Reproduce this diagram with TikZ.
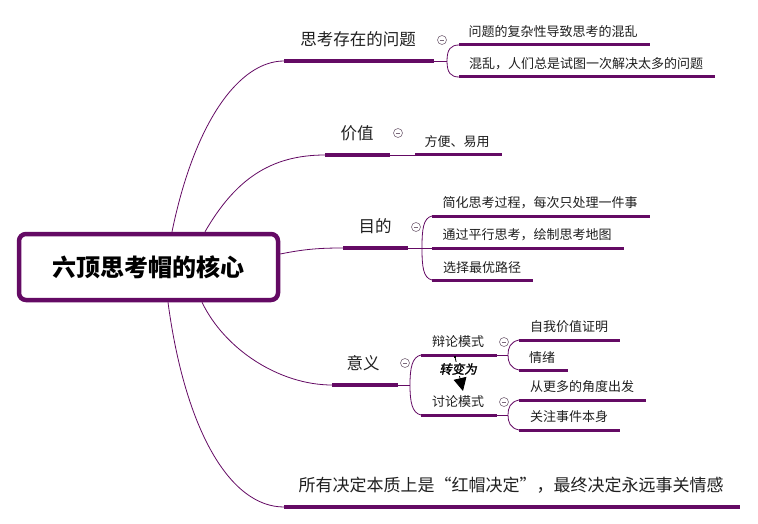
\documentclass[tikz,border=0pt]{standalone}
\usepackage{fontspec}
\setmainfont{Noto Sans CJK SC}
\newfontfamily\slantfont[FakeSlant=0.2,FakeBold=1.5]{Noto Sans CJK SC}
\usetikzlibrary{arrows.meta}
\definecolor{pp}{RGB}{100,10,100}
\begin{document}
\begin{tikzpicture}[x=1pt,y=-1pt,
 conn/.style={draw=pp,line width=0.8pt},
 ulone/.style={draw=pp,line width=4pt},
 ultwo/.style={draw=pp,line width=3pt},
 lblone/.style={inner sep=0pt,font=\fontsize{16.5}{18}\selectfont,text=black!88},
 lbltwo/.style={inner sep=0pt,font=\fontsize{13}{15}\selectfont,text=black!88},
 fold/.style={circle,draw=gray!80!pp,line width=0.6pt,minimum size=9pt,inner sep=0pt,
   path picture={\draw[gray!80!pp,line width=0.6pt] ([xshift=-2.4pt]path picture bounding box.center) -- ([xshift=2.4pt]path picture bounding box.center);}},
]
\path[use as bounding box,fill=white] (0,0) rectangle (758,524);

% root
\node[draw=pp,line width=4.5pt,rounded corners=7pt,minimum width=259pt,minimum height=66pt,inner sep=0pt,
  font=\fontsize{24}{26}\selectfont\bfseries] (root) at (148.5,267) {六顶思考帽的核心};

% ---------- branch 1
\coordinate (a1) at (284,61); \coordinate (a2) at (434,61);
\node[lblone] (t1) at (358,39) {思考存在的问题};
\draw[conn] ([xshift=23.5pt]root.north) .. controls (195,120) and (240,61) .. (a1);
\draw[ulone] (a1) -- (a2);
\node[fold] (f1) at (442,40) {};
\coordinate (b1) at (447,61);
\draw[conn] (a2) -- (b1);
\coordinate (s11) at (459,45); \coordinate (e11) at (650,45);
\coordinate (s12) at (459,77); \coordinate (e12) at (715,77);
\draw[conn] (b1) .. controls (447,49) and (451,45) .. (s11);
\draw[conn] (b1) .. controls (447,73) and (451,77) .. (s12);
\draw[ultwo] (s11) -- (e11);
\draw[ultwo] (s12) -- (e12);
\node[lbltwo] (t11) at (553,32) {问题的复杂性导致思考的混乱};
\node[lbltwo] (t12) at (586,64) {混乱，人们总是试图一次解决太多的问题};

% ---------- branch 2
\coordinate (a3) at (325,155); \coordinate (a4) at (390,155);
\node[lblone] (t2) at (357,133) {价值};
\draw[conn] ([xshift=56.5pt]root.north) .. controls (235,180) and (270,155) .. (a3);
\draw[ulone] (a3) -- (a4);
\node[fold] (f2) at (398,133) {};
\coordinate (s21) at (415,155); \coordinate (e21) at (502,155);
\draw[conn] (a4) -- (s21);
\draw[ultwo] (s21) -- (e21);
\node[lbltwo] (t21) at (457,142) {方便、易用};

% ---------- branch 3
\coordinate (a5) at (343,248); \coordinate (a6) at (408,248);
\node[lblone] (t3) at (375,226) {目的};
\draw[conn] ([yshift=13pt]root.east) .. controls (305,249) and (320,248) .. (a5);
\draw[ulone] (a5) -- (a6);
\node[fold] (f3) at (416,227) {};
\coordinate (b3) at (422,248);
\draw[conn] (a6) -- (b3);
\coordinate (s31) at (432,216); \coordinate (e31) at (650,216);
\coordinate (s32) at (432,248); \coordinate (e32) at (624,248);
\coordinate (s33) at (432,280); \coordinate (e33) at (533,280);
\draw[conn] (s31) .. controls (423,218) and (422,230) .. (b3) .. controls (422,266) and (423,278) .. (s33);
\draw[conn] (b3) -- (s32);
\draw[ultwo] (s31) -- (e31);
\draw[ultwo] (s32) -- (e32);
\draw[ultwo] (s33) -- (e33);
\node[lbltwo] (t31) at (540,203) {简化思考过程，每次只处理一件事};
\node[lbltwo] (t32) at (527,235) {通过平行思考，绘制思考地图};
\node[lbltwo] (t33) at (482,268) {选择最优路径};

% ---------- branch 4
\coordinate (a7) at (332,385); \coordinate (a8) at (398,385);
\node[lblone] (t4) at (363,363) {意义};
\draw[conn] ([xshift=53.5pt]root.south) .. controls (225,350) and (280,385) .. (a7);
\draw[ulone] (a7) -- (a8);
\node[fold] (f4) at (405,363) {};
\coordinate (b4) at (410,385);
\draw[conn] (a8) -- (b4);
\coordinate (s41) at (421,355); \coordinate (e41) at (497,355);
\coordinate (s42) at (421,415); \coordinate (e42) at (497,415);
\draw[conn] (s41) .. controls (412,357) and (410,368) .. (b4) .. controls (410,402) and (412,413) .. (s42);
\draw[ultwo] (s41) -- (e41);
\draw[ultwo] (s42) -- (e42);
\node[lbltwo] (t41) at (458,342) {辩论模式};
\node[lbltwo] (t42) at (458,402) {讨论模式};

% sub of 辩论模式
\node[fold] (f41) at (504,342) {};
\coordinate (b41) at (508,355);
\draw[conn] (e41) -- (b41);
\coordinate (s411) at (519,340); \coordinate (e411) at (620,340);
\coordinate (s412) at (519,370); \coordinate (e412) at (568,370);
\draw[conn] (s411) .. controls (510,342) and (508,348) .. (b41) .. controls (508,362) and (510,368) .. (s412);
\draw[ultwo] (s411) -- (e411);
\draw[ultwo] (s412) -- (e412);
\node[lbltwo] (t411) at (569,327) {自我价值证明};
\node[lbltwo] (t412) at (542,358) {情绪};

% sub of 讨论模式
\node[fold] (f42) at (504,402) {};
\coordinate (b42) at (508,415);
\draw[conn] (e42) -- (b42);
\coordinate (s421) at (519,400); \coordinate (e421) at (646,400);
\coordinate (s422) at (519,430); \coordinate (e422) at (620,430);
\draw[conn] (s421) .. controls (510,402) and (508,408) .. (b42) .. controls (508,422) and (510,428) .. (s422);
\draw[ultwo] (s421) -- (e421);
\draw[ultwo] (s422) -- (e422);
\node[lbltwo] (t421) at (582,387) {从更多的角度出发};
\node[lbltwo] (t422) at (569,417) {关注事件本身};

% relation arrow
\coordinate (rs) at (455,357);
\coordinate (re) at (463,391);
\draw[line width=0.8pt,-{Triangle[length=13pt,width=13pt]}] (rs) -- (re);
\fill (rs) ++(-1.3,-1.3) rectangle ++(2.6,2.6);
\node[inner sep=1pt,fill=white,font=\fontsize{12.5}{14}\slantfont] (rel) at (458,369) {转变为};

% ---------- branch 5
\coordinate (a9) at (284,507); \coordinate (a10) at (740,507);
\node[lblone,font=\fontsize{17}{19}\selectfont] (t5) at (511,485) {所有决定本质上是“红帽决定”，最终决定永远事关情感};
\draw[conn] ([xshift=19.5pt]root.south) .. controls (185,430) and (230,507) .. (a9);
\draw[ulone] (a9) -- (a10);
\end{tikzpicture}
\end{document}
